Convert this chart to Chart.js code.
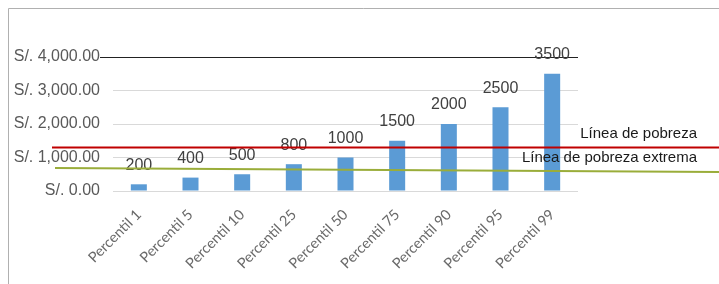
<!DOCTYPE html>
<html>
<head>
<meta charset="utf-8">
<script src="https://cdn.jsdelivr.net/npm/chart.js@4"></script>
<style>
    html, body { margin: 0; padding: 0; background: #fff; }
    #marco { position: relative; width: 719px; height: 284px; }
</style>
</head>
<body>
<div id="marco"><canvas id="grafico" width="719" height="284"></canvas></div>
<script>
// datos del gráfico
const percentiles = ['Percentil 1', 'Percentil 5', 'Percentil 10', 'Percentil 25', 'Percentil 50',
    'Percentil 75', 'Percentil 90', 'Percentil 95', 'Percentil 99'];
const ingresos = [200, 400, 500, 800, 1000, 1500, 2000, 2500, 3500];
const lineaPobreza = 1300;                 // valor (S/.)
const lineaPobrezaExtrema = [690, 570];    // inicio y fin de la línea (algo inclinada)
const ticksY = [0, 1000, 2000, 3000, 4000];

const formatoSoles = v => 'S/. ' + v.toLocaleString('en-US', { minimumFractionDigits: 2, maximumFractionDigits: 2 });

// Dibuja marco, líneas de pobreza, etiquetas y valores sobre las barras
const extras = {
    id: 'extras',
    beforeDraw(chart) {
        const c = chart.ctx;
        c.save();
        c.strokeStyle = '#b0b0b0';
        c.lineWidth = 1;
        c.beginPath();
        c.moveTo(8.5, 284);
        c.lineTo(8.5, 8.5);
        c.lineTo(719, 8.5);
        c.stroke();
        c.restore();
    },
    afterDatasetsDraw(chart) {
        const c = chart.ctx;
        const y = chart.scales.y;
        const area = chart.chartArea;
        c.save();

        // línea superior (4000) en negro, se extiende hasta la etiqueta
        const y4 = Math.round(y.getPixelForValue(4000)) + 0.5;
        c.strokeStyle = '#222';
        c.lineWidth = 1.2;
        c.beginPath();
        c.moveTo(100, y4);
        c.lineTo(area.right, y4);
        c.stroke();

        // valores sobre las barras
        c.font = '16px "Liberation Sans", Arial, sans-serif';
        c.fillStyle = '#404040';
        c.textAlign = 'center';
        c.textBaseline = 'middle';
        chart.getDatasetMeta(0).data.forEach((barra, i) => {
            c.fillText(String(ingresos[i]), barra.x, barra.y - 19);
        });

        // línea de pobreza
        const yP = y.getPixelForValue(lineaPobreza);
        c.strokeStyle = '#c00000';
        c.lineWidth = 2;
        c.beginPath();
        c.moveTo(52, yP);
        c.lineTo(719, yP);
        c.stroke();

        // línea de pobreza extrema
        c.strokeStyle = '#9aad3a';
        c.lineWidth = 2;
        c.beginPath();
        c.moveTo(55, y.getPixelForValue(lineaPobrezaExtrema[0]));
        c.lineTo(719, y.getPixelForValue(lineaPobrezaExtrema[1]));
        c.stroke();

        // textos de las líneas
        c.font = '15px "Liberation Sans", Arial, sans-serif';
        c.fillStyle = '#1a1a1a';
        c.textAlign = 'right';
        c.fillText('Línea de pobreza', area.right + 119, yP - 14);
        c.fillText('Línea de pobreza extrema', area.right + 119, yP + 10);

        c.restore();
    }
};

new Chart(document.getElementById('grafico'), {
    type: 'bar',
    data: {
        labels: percentiles,
        datasets: [{
            data: ingresos,
            backgroundColor: '#5b9bd5',
            barPercentage: 0.62,
            categoryPercentage: 0.5
        }]
    },
    options: {
        responsive: false,
        animation: false,
        layout: { padding: { top: 57, right: 141, left: 0, bottom: 0 } },
        plugins: { legend: { display: false }, tooltip: { enabled: false } },
        scales: {
            x: {
                grid: { display: false, drawTicks: false },
                border: { display: false },
                ticks: {
                    color: '#6a6a6a',
                    font: { family: 'Lato, "Open Sans", sans-serif', size: 14.5 },
                    minRotation: 45,
                    maxRotation: 45,
                    padding: 15
                },
                afterFit(scale) { scale.height = 93; }
            },
            y: {
                min: 0,
                max: 4000,
                afterBuildTicks(scale) { scale.ticks = ticksY.map(v => ({ value: v })); },
                grid: { color: '#d9d9d9', drawTicks: false },
                border: { display: false },
                ticks: {
                    color: '#595959',
                    font: { family: '"Liberation Sans", Arial, sans-serif', size: 16 },
                    padding: 13,
                    callback: v => formatoSoles(v)
                },
                afterFit(scale) { scale.width = 113; }
            }
        }
    },
    plugins: [extras]
});
</script>
</body>
</html>
